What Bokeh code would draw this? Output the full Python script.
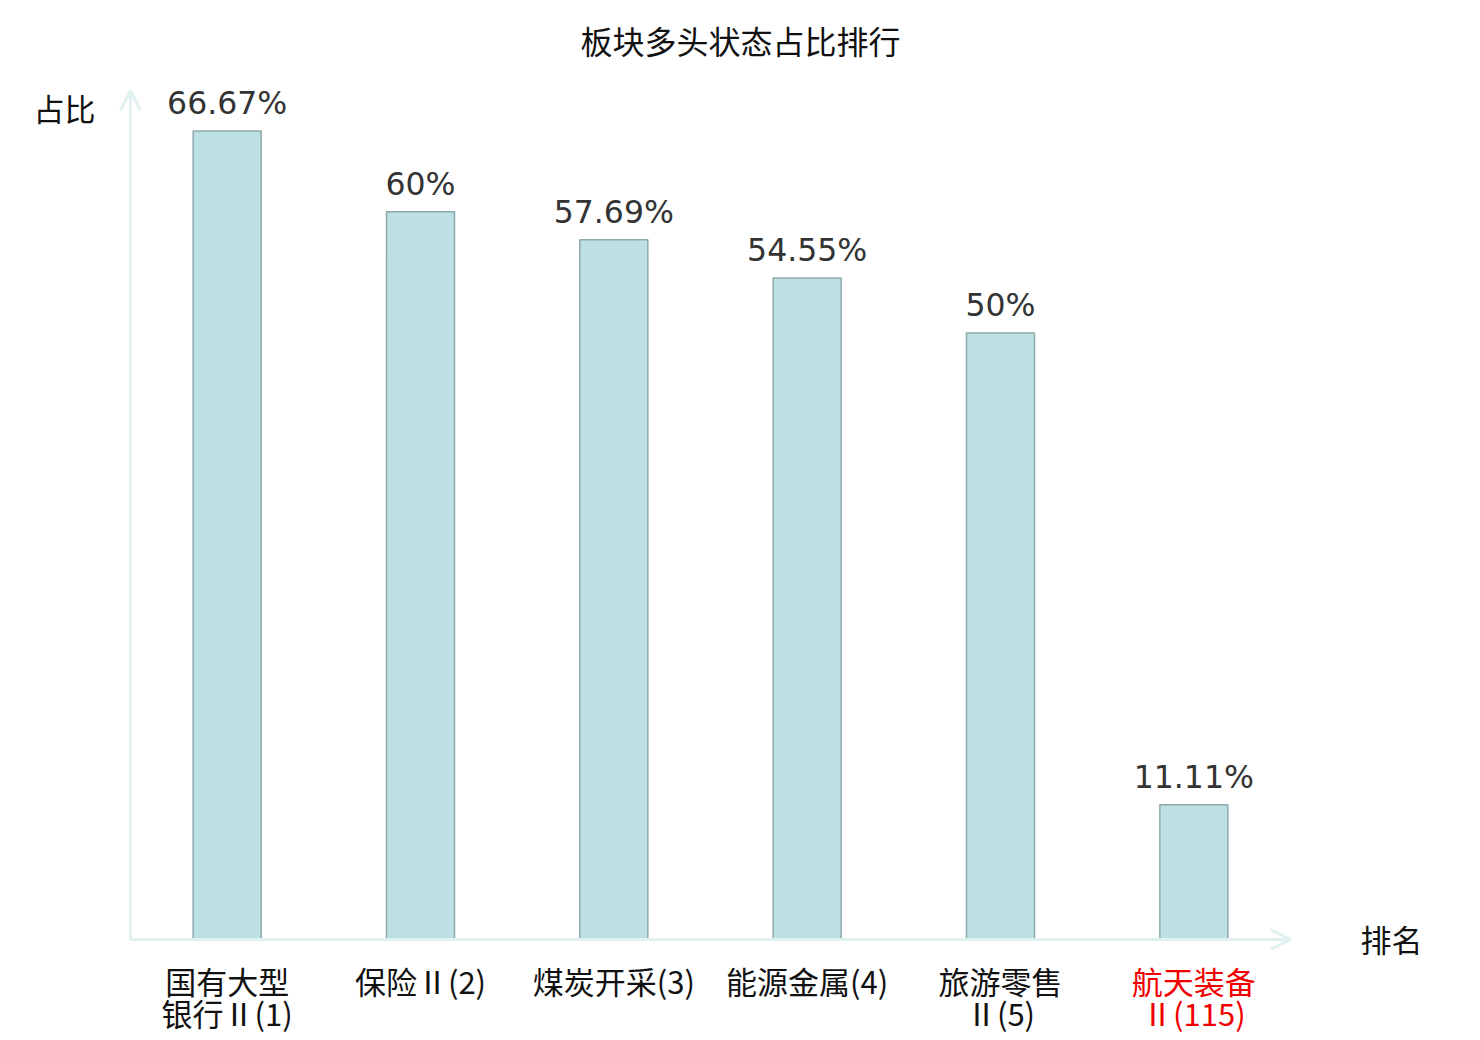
from bokeh.plotting import figure
from bokeh.models import Range1d, Label, Arrow, OpenHead, ColumnDataSource, LabelSet
from bokeh.core.properties import value
from bokeh.embed import file_html
from bokeh.resources import INLINE

# ---- data ----
title_text = "板块多头状态占比排行"
y_axis_name = "占比"
x_axis_name = "排名"
categories = ["国有大型\n银行Ⅱ(1)", "保险Ⅱ(2)", "煤炭开采(3)", "能源金属(4)", "旅游零售\nⅡ(5)", "航天装备\nⅡ(115)"]
values = [66.67, 60, 57.69, 54.55, 50, 11.11]
value_labels = ["66.67%", "60%", "57.69%", "54.55%", "50%", "11.11%"]
label_colors = ["#111111", "#111111", "#111111", "#111111", "#111111", "#f00000"]
y_max = 70

# ---- style / layout (pixels) ----
BAR_FILL = "#bce0e3"
BAR_LINE = "#8faaac"
AXIS_COLOR = "#dff2ef"
CJK = "'Noto Sans CJK SC'"
TICK_FONT = "'DejaVu Sans ExtraLight', 'Noto Sans CJK SC'"
LATIN = "DejaVu Sans"

W, H = 1475, 1035
AX_LEFT, AX_RIGHT, AX_TOP, AX_BOTTOM = 130, 1290, 90, 939  # axis box in pixels
n = len(categories)
ux = (AX_RIGHT - AX_LEFT) / n          # px per x unit
uy = (AX_BOTTOM - AX_TOP) / y_max      # px per y unit
xs = [i + 0.5 for i in range(n)]

p = figure(width=W, height=H, output_backend="svg", toolbar_location=None, title=None,
           x_range=Range1d(-AX_LEFT / ux, (W - AX_LEFT) / ux),
           y_range=Range1d(-(H - AX_BOTTOM) / uy, AX_BOTTOM / uy),
           min_border=0)
p.xaxis.visible = False
p.yaxis.visible = False
p.xgrid.visible = False
p.ygrid.visible = False
p.outline_line_color = None
p.background_fill_color = "white"
p.border_fill_color = "white"

src = ColumnDataSource(dict(x=xs, top=values, lab=value_labels))

p.vbar(x="x", top="top", width=68 / ux, bottom=0, source=src,
       fill_color=BAR_FILL, line_color=BAR_LINE, line_width=1.5)

# axes as arrows
p.add_layout(Arrow(end=OpenHead(size=20, line_color=AXIS_COLOR, line_width=3),
                   x_start=0, y_start=0, x_end=0, y_end=y_max,
                   line_color=AXIS_COLOR, line_width=3))
p.add_layout(Arrow(end=OpenHead(size=20, line_color=AXIS_COLOR, line_width=3),
                   x_start=0, y_start=0, x_end=n, y_end=0,
                   line_color=AXIS_COLOR, line_width=3))

# value labels
p.add_layout(LabelSet(x="x", y="top", text="lab", source=src, y_offset=17,
                      text_align="center", text_baseline="alphabetic",
                      text_font=value(LATIN), text_font_size=value("31.5px"),
                      text_color="#333333"))

# category labels (one Label per line)
LINE_GAP = 32
for x, name, col in zip(xs, categories, label_colors):
    for k, line in enumerate(name.split("\n")):
        p.add_layout(Label(x=x, y=0, y_offset=-41 - k * LINE_GAP, text=line,
                           text_align="center", text_baseline="middle",
                           text_font=TICK_FONT, text_font_size="31px", text_color=col))

# axis names
p.add_layout(Label(x=0, y=y_max, x_offset=-66, y_offset=-17, text=y_axis_name,
                   text_align="center", text_baseline="middle", text_font=CJK,
                   text_font_size="31px", text_color="#111111"))
p.add_layout(Label(x=n, y=0, x_offset=101, y_offset=1, text=x_axis_name,
                   text_align="center", text_baseline="middle", text_font=CJK,
                   text_font_size="31px", text_color="#111111"))

# title
p.add_layout(Label(x=n / 2, y=y_max, x_offset=30, y_offset=51, text=title_text,
                   text_align="center", text_baseline="middle", text_font=CJK,
                   text_font_size="32px", text_color="#111111"))

open("out.html", "w").write(file_html(p, INLINE))
